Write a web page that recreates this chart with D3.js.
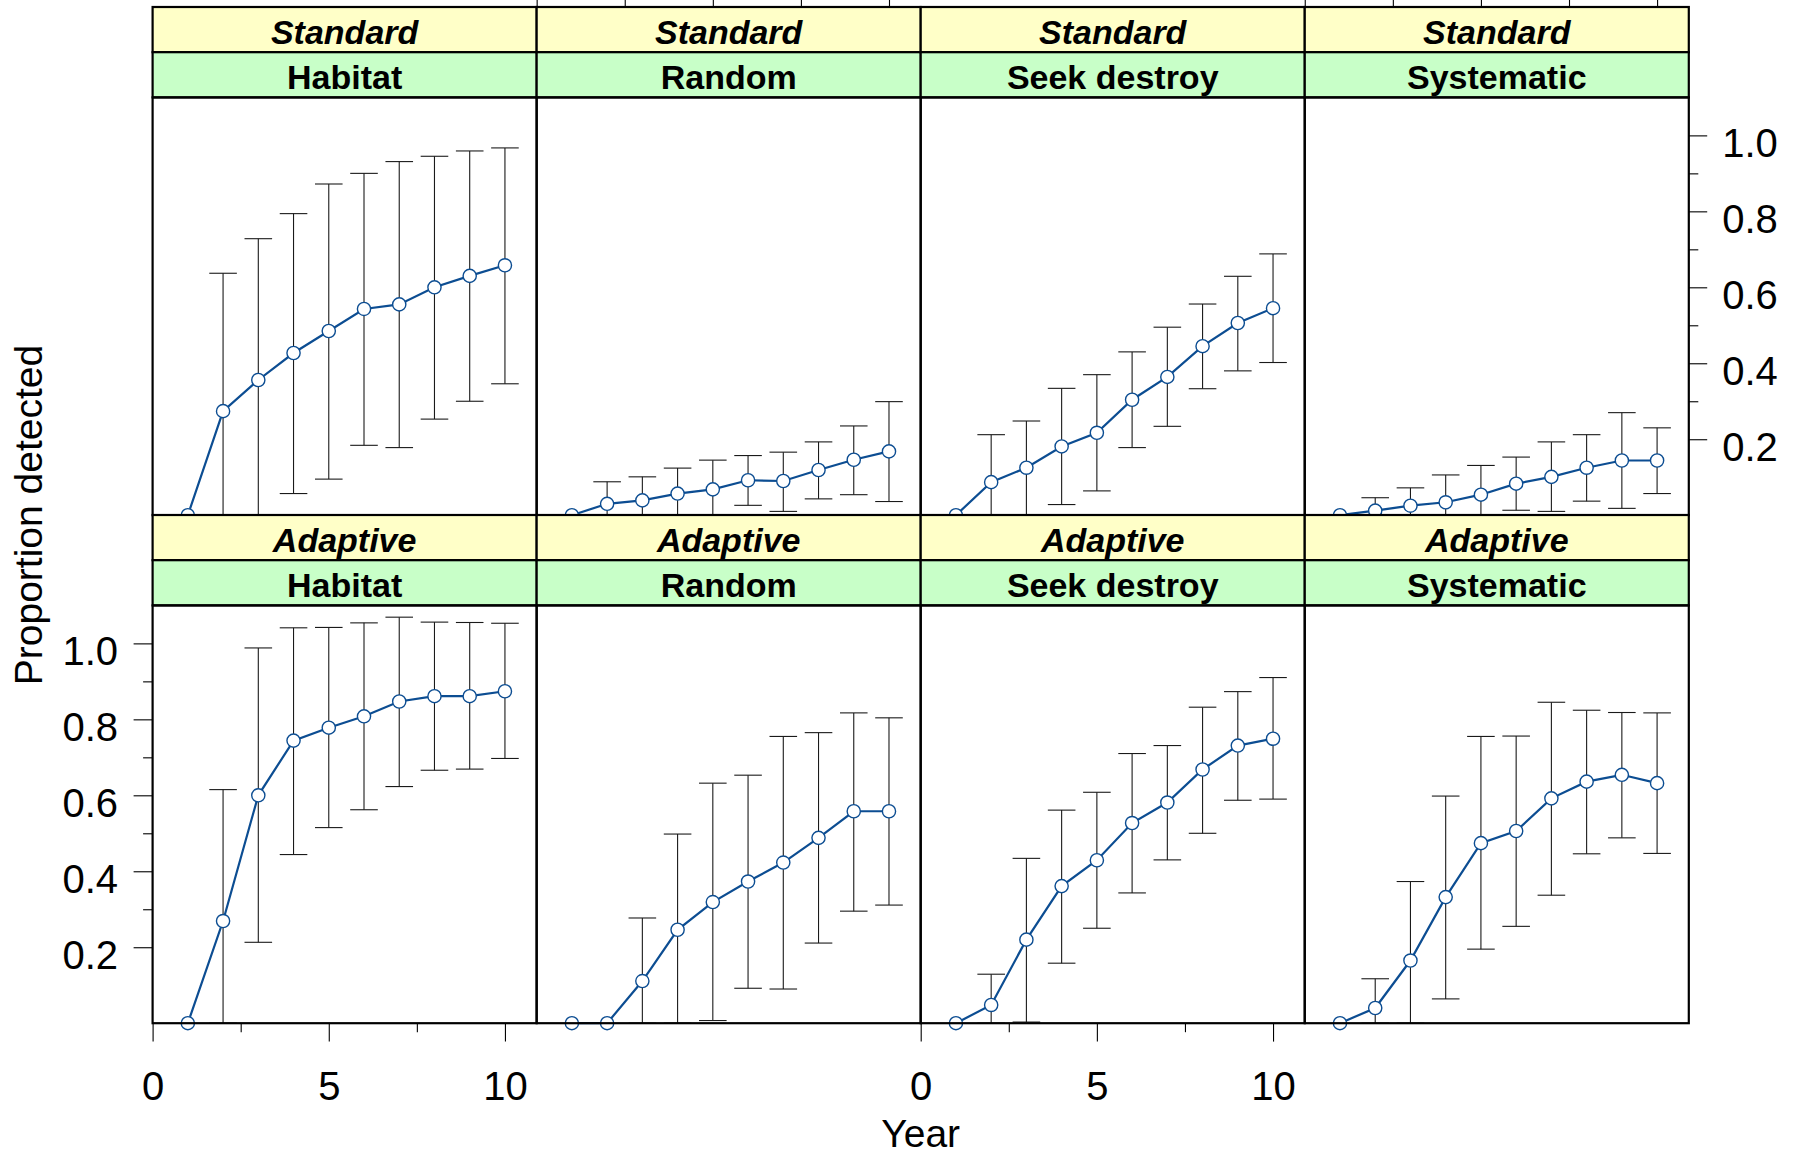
<!DOCTYPE html>
<html>
<head>
<meta charset="utf-8">
<script src="https://cdn.jsdelivr.net/npm/d3@7"></script>
<style>
  html, body { margin: 0; padding: 0; background: #fff; }
  svg { display: block; }
  text { font-family: "Liberation Sans", Arial, Helvetica, sans-serif; }
</style>
</head>
<body>
<svg id="chart" width="1799" height="1157"></svg>
<script>
// ---------------- data ----------------
const years = [1, 2, 3, 4, 5, 6, 7, 8, 9, 10];
const designs = ["Standard", "Adaptive"];
const methods = ["Habitat", "Random", "Seek destroy", "Systematic"];

const stdHabitatMean  = [0, 0.274, 0.356, 0.427, 0.485, 0.543, 0.555, 0.600, 0.630, 0.658];
const stdHabitatUpper = [0, 0.637, 0.728, 0.794, 0.872, 0.900, 0.931, 0.945, 0.959, 0.967];
const stdHabitatLower = [0, 0, 0, 0.057, 0.095, 0.184, 0.178, 0.253, 0.300, 0.346];

const stdRandomMean  = [0, 0.030, 0.039, 0.057, 0.068, 0.092, 0.090, 0.119, 0.146, 0.168];
const stdRandomUpper = [0, 0.088, 0.101, 0.124, 0.145, 0.157, 0.166, 0.193, 0.235, 0.299];
const stdRandomLower = [0, 0, 0, 0, 0, 0.026, 0.010, 0.043, 0.054, 0.036];

const stdSeekMean  = [0, 0.087, 0.125, 0.181, 0.217, 0.304, 0.364, 0.445, 0.506, 0.545];
const stdSeekUpper = [0, 0.212, 0.248, 0.334, 0.370, 0.430, 0.495, 0.556, 0.629, 0.688];
const stdSeekLower = [0, 0, 0, 0.028, 0.064, 0.178, 0.234, 0.333, 0.380, 0.402];

const stdSystMean  = [0, 0.012, 0.025, 0.034, 0.054, 0.083, 0.101, 0.125, 0.144, 0.144];
const stdSystUpper = [0, 0.046, 0.072, 0.106, 0.131, 0.153, 0.193, 0.212, 0.270, 0.230];
const stdSystLower = [0, 0, 0, 0, 0, 0.013, 0.010, 0.037, 0.018, 0.057];

const adpHabitatMean  = [0, 0.269, 0.600, 0.744, 0.778, 0.808, 0.847, 0.861, 0.861, 0.874];
const adpHabitatUpper = [0, 0.615, 0.988, 1.041, 1.042, 1.054, 1.069, 1.056, 1.055, 1.053];
const adpHabitatLower = [0, 0, 0.213, 0.444, 0.515, 0.562, 0.623, 0.666, 0.669, 0.697];

const adpRandomMean  = [0, 0, 0.111, 0.246, 0.319, 0.373, 0.423, 0.488, 0.558, 0.558];
const adpRandomUpper = [0, 0, 0.277, 0.498, 0.632, 0.653, 0.755, 0.765, 0.817, 0.804];
const adpRandomLower = [0, 0, 0, 0, 0.007, 0.092, 0.090, 0.211, 0.295, 0.311];

const adpSeekMean  = [0, 0.048, 0.220, 0.361, 0.429, 0.527, 0.581, 0.668, 0.731, 0.749];
const adpSeekUpper = [0, 0.129, 0.434, 0.561, 0.608, 0.710, 0.731, 0.832, 0.873, 0.910];
const adpSeekLower = [0, 0, 0.003, 0.158, 0.250, 0.343, 0.430, 0.500, 0.587, 0.590];

const adpSystMean  = [0, 0.040, 0.165, 0.332, 0.474, 0.506, 0.592, 0.636, 0.654, 0.632];
const adpSystUpper = [0, 0.117, 0.373, 0.598, 0.755, 0.756, 0.845, 0.824, 0.818, 0.817];
const adpSystLower = [0, 0, 0, 0.064, 0.195, 0.255, 0.337, 0.446, 0.488, 0.447];

const xMajorTicks = [0, 5, 10];
const xMinorTicks = [2.5, 7.5];
const yMajorTicks = [0.2, 0.4, 0.6, 0.8, 1.0];
const yMinorTicks = [0.3, 0.5, 0.7, 0.9];
const xLabel = "Year";
const yLabel = "Proportion detected";

// panel table built from the arrays
const panelSeries = [
  [ [stdHabitatMean, stdHabitatLower, stdHabitatUpper],
    [stdRandomMean, stdRandomLower, stdRandomUpper],
    [stdSeekMean, stdSeekLower, stdSeekUpper],
    [stdSystMean, stdSystLower, stdSystUpper] ],
  [ [adpHabitatMean, adpHabitatLower, adpHabitatUpper],
    [adpRandomMean, adpRandomLower, adpRandomUpper],
    [adpSeekMean, adpSeekLower, adpSeekUpper],
    [adpSystMean, adpSystLower, adpSystUpper] ]
];

// ---------------- layout ----------------
const colX0 = 152.6, colW = 384.05;
const stripH = 45.2;
const rowTop = [7, 515];
const panelH = 417.8;
const xDomain = [0, 10.9];
const yDomain = [0, 1.1];

const blue = "#0c4d92";
const fontTick = 40, fontTitle = 39, fontStrip = 34;

const svg = d3.select("#chart");
const gData = svg.append("g");
const gFrame = svg.append("g");
const gAxes = svg.append("g");

function xScale(c) {
  return d3.scaleLinear().domain(xDomain).range([colX0 + c * colW, colX0 + (c + 1) * colW]);
}
function yScale(r) {
  const top = rowTop[r] + 2 * stripH;
  return d3.scaleLinear().domain(yDomain).range([top + panelH, top]);
}

designs.forEach((design, r) => {
  methods.forEach((method, c) => {
    const x = xScale(c), y = yScale(r);
    const [mean, lower, upper] = panelSeries[r][c];
    const rows = years.map((yr, i) => ({ yr, m: mean[i], lo: lower[i], hi: upper[i] }));
    const g = gData.append("g");

    // error bars
    const eb = rows.filter(d => d.hi > d.m || d.lo < d.m);
    const capW = 13.8;
    g.selectAll("line.v").data(eb).join("line")
      .attr("x1", d => x(d.yr)).attr("x2", d => x(d.yr))
      .attr("y1", d => y(d.lo)).attr("y2", d => y(d.hi))
      .attr("stroke", "#1a1a1a").attr("stroke-width", 1.1);
    g.selectAll("line.cu").data(eb).join("line")
      .attr("x1", d => x(d.yr) - capW).attr("x2", d => x(d.yr) + capW)
      .attr("y1", d => y(d.hi)).attr("y2", d => y(d.hi))
      .attr("stroke", "#1a1a1a").attr("stroke-width", 1.1);
    g.selectAll("line.cl").data(eb).join("line")
      .attr("x1", d => x(d.yr) - capW).attr("x2", d => x(d.yr) + capW)
      .attr("y1", d => y(d.lo)).attr("y2", d => y(d.lo))
      .attr("stroke", "#1a1a1a").attr("stroke-width", 1.1);

    // line
    g.append("path").datum(rows)
      .attr("d", d3.line().x(d => x(d.yr)).y(d => y(d.m)))
      .attr("fill", "none").attr("stroke", blue).attr("stroke-width", 2.2);
    // points
    g.selectAll("circle").data(rows).join("circle")
      .attr("cx", d => x(d.yr)).attr("cy", d => y(d.m)).attr("r", 6.6)
      .attr("fill", "#fff").attr("stroke", blue).attr("stroke-width", 1.4);

    // strips
    const x0 = colX0 + c * colW;
    const s1 = rowTop[r], s2 = rowTop[r] + stripH;
    gFrame.append("rect").attr("x", x0).attr("y", s1).attr("width", colW).attr("height", stripH)
      .attr("fill", "#ffffc8").attr("stroke", "#000").attr("stroke-width", 2.2);
    gFrame.append("rect").attr("x", x0).attr("y", s2).attr("width", colW).attr("height", stripH)
      .attr("fill", "#c8ffc8").attr("stroke", "#000").attr("stroke-width", 2.2);
    gFrame.append("text").attr("x", x0 + colW / 2).attr("y", s1 + stripH / 2 + 14.5)
      .attr("text-anchor", "middle").attr("font-size", fontStrip)
      .attr("font-weight", "bold").attr("font-style", "italic").text(design);
    gFrame.append("text").attr("x", x0 + colW / 2).attr("y", s2 + stripH / 2 + 14.5)
      .attr("text-anchor", "middle").attr("font-size", fontStrip)
      .attr("font-weight", "bold").text(method);
    // panel border
    gFrame.append("rect").attr("x", x0).attr("y", s1 + 2 * stripH)
      .attr("width", colW).attr("height", panelH)
      .attr("fill", "none").attr("stroke", "#000").attr("stroke-width", 2.2);
  });
});

// ---------------- axes ----------------
function styleAxis(sel, fs) {
  sel.select(".domain").remove();
  sel.selectAll(".tick line").attr("stroke", "#000").attr("stroke-width", 1.1);
  sel.selectAll(".tick text").attr("font-size", fs).attr("fill", "#000")
     .style("font-family", '"Liberation Sans", Arial, sans-serif');
}

// bottom x axes: columns 0 and 2
[0, 2].forEach(c => {
  const x = xScale(c);
  const yb = yScale(1).range()[0];
  const gMaj = gAxes.append("g").attr("transform", `translate(0,${yb})`)
    .call(d3.axisBottom(x).tickValues(xMajorTicks).tickSize(18.4).tickPadding(30.3).tickFormat(d3.format("d")));
  styleAxis(gMaj, fontTick);
  const gMin = gAxes.append("g").attr("transform", `translate(0,${yb})`)
    .call(d3.axisBottom(x).tickValues(xMinorTicks).tickSize(9).tickFormat(""));
  styleAxis(gMin, fontTick);
});
// top x axes (ticks only, labels fall outside): columns 1 and 3
[1, 3].forEach(c => {
  const x = xScale(c);
  const gMaj = gAxes.append("g").attr("transform", `translate(0,${rowTop[0]})`)
    .call(d3.axisTop(x).tickValues(xMajorTicks).tickSize(18.4).tickFormat(""));
  styleAxis(gMaj, fontTick);
  const gMin = gAxes.append("g").attr("transform", `translate(0,${rowTop[0]})`)
    .call(d3.axisTop(x).tickValues(xMinorTicks).tickSize(9).tickFormat(""));
  styleAxis(gMin, fontTick);
});

// left y axis: bottom row, column 0
{
  const y = yScale(1);
  const gMaj = gAxes.append("g").attr("transform", `translate(${colX0},0)`)
    .call(d3.axisLeft(y).tickValues(yMajorTicks).tickSize(19).tickPadding(15.5).tickFormat(d3.format(".1f")));
  styleAxis(gMaj, fontTick);
  gMaj.selectAll(".tick text").attr("dy", "21px");
  const gMin = gAxes.append("g").attr("transform", `translate(${colX0},0)`)
    .call(d3.axisLeft(y).tickValues(yMinorTicks).tickSize(9.5).tickFormat(""));
  styleAxis(gMin, fontTick);
}
// right y axis: top row, column 3
{
  const y = yScale(0);
  const xr = colX0 + 4 * colW;
  const gMaj = gAxes.append("g").attr("transform", `translate(${xr},0)`)
    .call(d3.axisRight(y).tickValues(yMajorTicks).tickSize(18.4).tickPadding(15).tickFormat(d3.format(".1f")));
  styleAxis(gMaj, fontTick);
  gMaj.selectAll(".tick text").attr("dy", "21px");
  const gMin = gAxes.append("g").attr("transform", `translate(${xr},0)`)
    .call(d3.axisRight(y).tickValues(yMinorTicks).tickSize(9.5).tickFormat(""));
  styleAxis(gMin, fontTick);
}

// axis titles
svg.append("text").attr("x", colX0 + 2 * colW).attr("y", 1147)
  .attr("text-anchor", "middle").attr("font-size", fontTitle).text(xLabel);
svg.append("text").attr("transform", `translate(42,515) rotate(-90)`)
  .attr("text-anchor", "middle").attr("font-size", fontTitle).text(yLabel);
</script>
</body>
</html>
